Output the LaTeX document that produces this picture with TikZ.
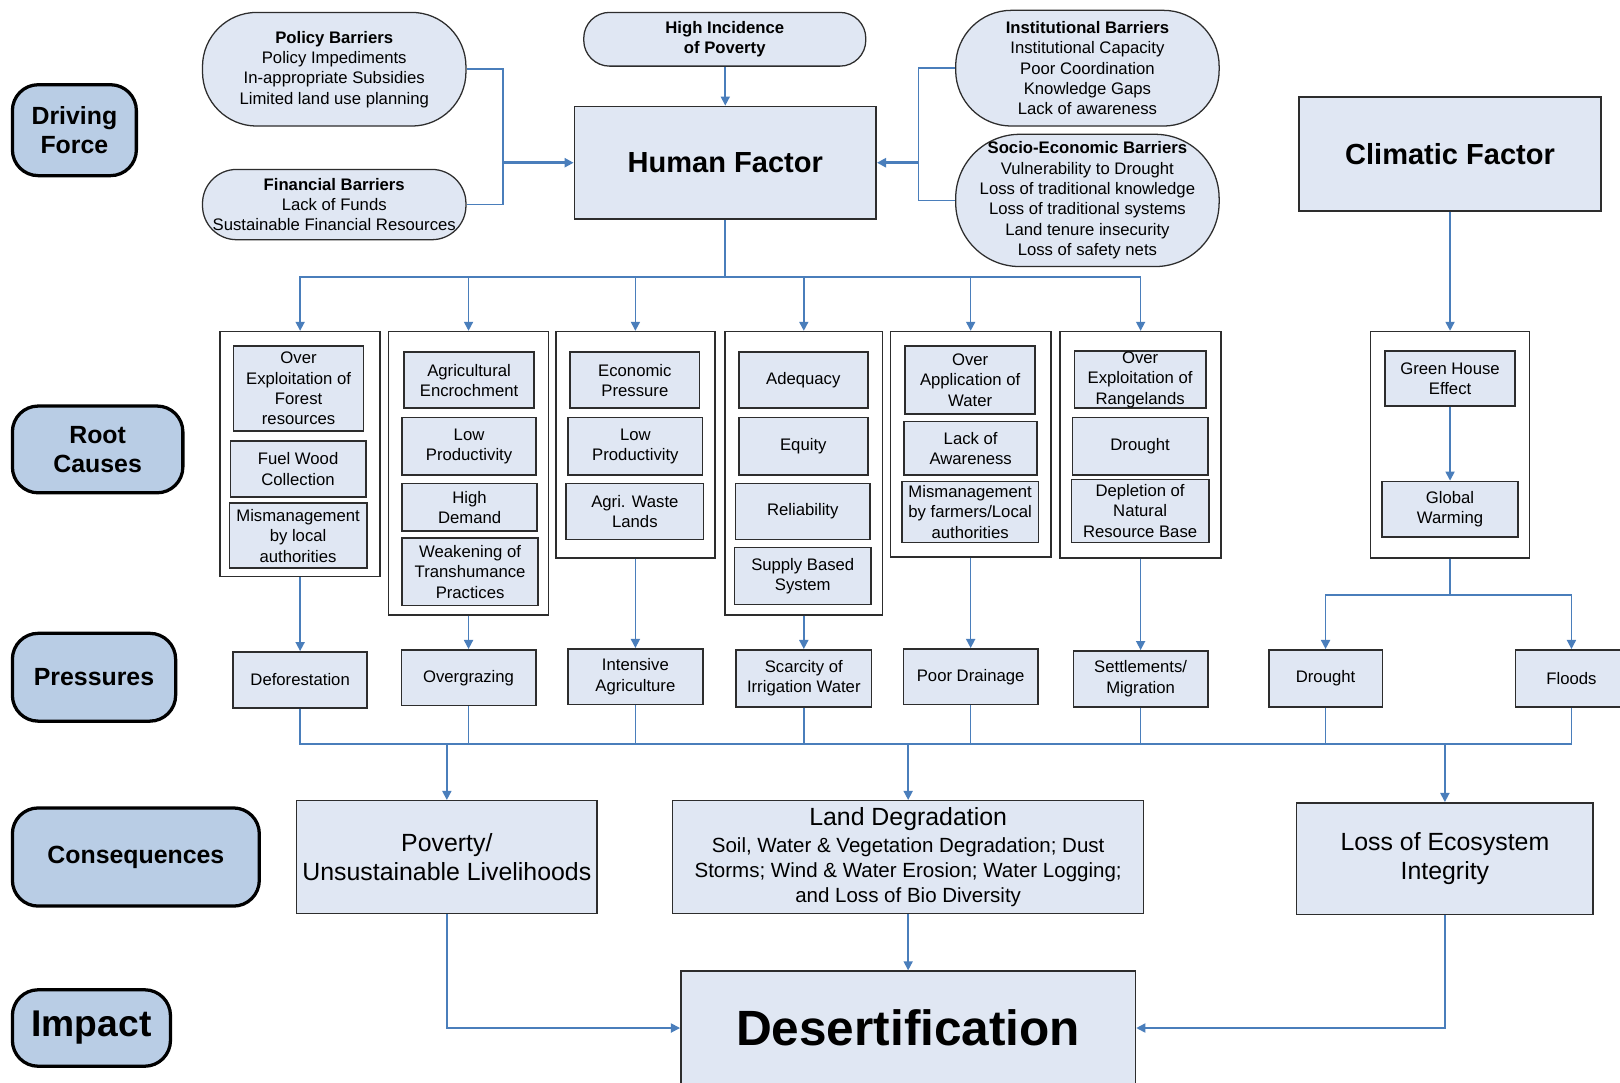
\documentclass[tikz,border=0pt]{standalone}
\usepackage{fontspec}
\setmainfont{Liberation Sans}
\usetikzlibrary{arrows.meta}

\definecolor{linkblue}{RGB}{74,126,187}
\definecolor{boxfill}{RGB}{224,231,243}
\definecolor{layerfill}{RGB}{185,205,229}
\definecolor{edge}{RGB}{45,45,45}

\newcommand{\smallfont}{\fontsize{9.2}{11.2}\selectfont}
\newcommand{\midfont}{\fontsize{13.7}{16.2}\selectfont}

\tikzset{
  sz/.style 2 args={minimum width=#1*0.02cm,minimum height=#2*0.02cm},
  layer/.style={draw=black,line width=1.8pt,fill=layerfill,rounded corners=0.5cm,align=center,inner sep=0pt,font=\bfseries\midfont},
  barrier/.style={draw=edge,line width=0.7pt,fill=boxfill,rounded corners=#1,align=center,inner sep=0pt,font=\smallfont},
  factor/.style={draw=edge,line width=0.9pt,fill=boxfill,inner sep=0pt,font=\bfseries\fontsize{16}{19}\selectfont},
  group/.style={draw=edge,line width=0.9pt,fill=white,inner sep=0pt},
  cause/.style={draw=edge,line width=0.9pt,fill=boxfill,align=center,inner sep=0pt,font=\smallfont},
  conseq/.style={draw=edge,line width=0.8pt,fill=boxfill,align=center,inner sep=0pt,font=\midfont},
  link/.style={draw=linkblue,line width=0.9pt},
  arrow/.style={link,-{Triangle[length=5pt,width=5pt]}},
  bigarrow/.style={link,line width=1.4pt,-{Triangle[length=5pt,width=5pt]}}
}

\begin{document}
\begin{tikzpicture}[x=0.02cm,y=-0.02cm]

\clip (0,0) rectangle (1568,1048);
\fill[white] (0,0) rectangle (1568,1048);

% levels
\node[layer,sz={120}{88}]  (drive)  at (72,126)    {Driving\\Force};
\node[layer,sz={165}{84}]  (root)   at (94.5,435)  {Root\\Causes};
\node[layer,sz={158}{85}]  (press)  at (91,655.5)  {Pressures};
\node[layer,sz={239}{95}]  (conseq) at (131.5,829.5) {Consequences};
\node[layer,sz={153}{74},font=\bfseries\fontsize{20.5}{24}\selectfont] (impact) at (88.5,995) {Impact};

% driving force
\node[barrier=1.05cm,sz={255}{110}] (policy)  at (323.5,67)  {\textbf{Policy Barriers}\\Policy Impediments\\In-appropriate Subsidies\\Limited land use planning};
\node[barrier=0.66cm,sz={255}{68}]  (finance) at (323.5,198) {\textbf{Financial Barriers}\\Lack of Funds\\Sustainable Financial Resources};
\node[barrier=0.5cm,sz={273}{52},font=\bfseries\smallfont] (highpov) at (701.5,38) {High Incidence\\of Poverty};
\node[barrier=1.08cm,sz={255}{112}] (inst)  at (1052.5,66)  {\textbf{Institutional Barriers}\\Institutional Capacity\\Poor Coordination\\Knowledge Gaps\\Lack of awareness};
\node[barrier=1.24cm,sz={255}{128}] (socio) at (1052.5,194) {\textbf{Socio-Economic Barriers}\\Vulnerability to Drought\\Loss of traditional knowledge\\Loss of traditional systems\\Land tenure insecurity\\Loss of safety nets};

\node[factor,sz={292}{109}] (human)   at (702,157.5)  {Human Factor};
\node[factor,sz={292}{110}] (climate) at (1403.5,149) {Climatic Factor};

% root causes
\node[group,sz={155}{237}] (g1) at (290.5,439.5) {};
\node[group,sz={155}{274}] (g2) at (453.5,458)   {};
\node[group,sz={154}{219}] (g3) at (615,430.5)   {};
\node[group,sz={152}{274}] (g4) at (778,458)     {};
\node[group,sz={155}{218}] (g5) at (939.5,430)   {};
\node[group,sz={156}{219}] (g6) at (1104,430.5)  {};
\node[group,sz={154}{219}] (g7) at (1403.5,430.5) {};

\node[cause,sz={126}{82}] (c11) at (289,376)   {Over\\Exploitation of\\Forest\\resources};
\node[cause,sz={131}{54}] (c12) at (288.5,454) {Fuel Wood\\Collection};
\node[cause,sz={133}{63}] (c13) at (288.5,518.5) {Mismanagement\\by local\\authorities};

\node[cause,sz={126}{54}] (c21) at (454,368)   {Agricultural\\Encrochment};
\node[cause,sz={130}{56}] (c22) at (454,432)   {Low\\Productivity};
\node[cause,sz={131}{46}] (c23) at (454.5,491) {High\\Demand};
\node[cause,sz={132}{65}] (c24) at (455,553.5) {Weakening of\\Transhumance\\Practices};

\node[cause,sz={125}{54}] (c31) at (614.5,368) {Economic\\Pressure};
\node[cause,sz={130}{56}] (c32) at (615,432)   {Low\\Productivity};
\node[cause,sz={133}{54}] (c33) at (614.5,495) {Agri. Waste\\Lands};

\node[cause,sz={125}{54}] (c41) at (777.5,368) {Adequacy};
\node[cause,sz={125}{56}] (c42) at (777.5,432) {Equity};
\node[cause,sz={130}{54}] (c43) at (777,495)   {Reliability};
\node[cause,sz={132}{55}] (c44) at (777,557.5) {Supply Based\\System};

\node[cause,sz={126}{66}] (c51) at (939,368)   {Over\\Application of\\Water};
\node[cause,sz={129}{52}] (c52) at (939.5,434) {Lack of\\Awareness};
\node[cause,sz={132}{59}] (c53) at (939,495.5) {Mismanagement\\by farmers/Local\\authorities};

\node[cause,sz={127}{55}] (c61) at (1103.5,367.5) {Over\\Exploitation of\\Rangelands};
\node[cause,sz={131}{56}] (c62) at (1103.5,432)   {Drought};
\node[cause,sz={133}{61}] (c63) at (1103.5,494.5) {Depletion of\\Natural\\Resource Base};

\node[cause,sz={126}{53}] (c71) at (1403.5,366.5) {Green House\\Effect};
\node[cause,sz={132}{54}] (c72) at (1403.5,493)   {Global\\Warming};

% pressures
\node[cause,sz={130}{54}] (p1) at (290.5,658)  {Deforestation};
\node[cause,sz={130}{54}] (p2) at (453.5,656)  {Overgrazing};
\node[cause,sz={131}{54}] (p3) at (615,655)    {Intensive\\Agriculture};
\node[cause,sz={131}{55}] (p4) at (778,656.5)  {Scarcity of\\Irrigation Water};
\node[cause,sz={130}{54}] (p5) at (939.5,655)  {Poor Drainage};
\node[cause,sz={130}{54}] (p6) at (1104,657)   {Settlements/\\Migration};
\node[cause,sz={110}{55}] (p7) at (1283,656.5) {Drought};
\node[cause,sz={108}{55}] (p8) at (1521,656.5) {Floods};

% consequences
\node[conseq,sz={291}{109}] (pov)  at (432.5,829.5) {Poverty/\\Unsustainable Livelihoods};
\node[conseq,sz={456}{109},font=\fontsize{11.3}{13.6}\selectfont] (land) at (879,829.5)
  {{\midfont Land Degradation}\\[1.5pt]Soil, Water \& Vegetation Degradation; Dust\\Storms; Wind \& Water Erosion; Water Logging;\\and Loss of Bio Diversity};
\node[conseq,sz={287}{108}] (eco)  at (1398.5,831)  {Loss of Ecosystem\\Integrity};

% impact
\node[factor,sz={440}{110},font=\bfseries\fontsize{27.3}{32}\selectfont] (desert) at (879,995) {Desertification};

% connectors
\coordinate (lbus) at (487,157.5);
\coordinate (rbus) at (889,157.5);
\draw[link] (policy.east) -| (lbus);
\draw[link] (finance.east) -| (lbus);
\draw[bigarrow] (lbus) -- (human.west);
\draw[link] (inst.west) -| (rbus);
\draw[link] (socio.west) -| (rbus);
\draw[bigarrow] (rbus) -- (human.east);
\draw[arrow] (highpov.south -| human.north) -- (human.north);

\coordinate (hbus) at (702,268);
\draw[link,line width=1.2pt] (human.south) -- (hbus);
\foreach \g in {g1,g2,g3,g4,g5,g6}
  \draw[arrow] (hbus) -| (\g.north);
\foreach \g/\p in {g1/p1,g2/p2,g3/p3,g4/p4,g5/p5,g6/p6}
  \draw[arrow] (\g.south) -- (\p.north);

\draw[arrow] (climate.south) -- (g7.north);
\draw[arrow] (c71.south) -- (c72.north);
\coordinate (cbus) at (1403.5,576);
\draw[link] (g7.south) -- (cbus);
\draw[arrow] (cbus) -| (p7.north);
\draw[arrow] (cbus) -| (p8.north);

\coordinate (pbus) at (880,720);
\draw[link] (p1.south) |- (p8.south |- pbus) -- (p8.south);
\foreach \p in {p2,p3,p4,p5,p6,p7}
  \draw[link] (\p.south) -- (\p.south |- pbus);
\foreach \c in {pov,land,eco}
  \draw[arrow] (\c.north |- pbus) -- (\c.north);

\draw[arrow] (pov.south) |- (desert.west);
\draw[arrow] (land.south) -- (desert.north);
\draw[arrow] (eco.south) |- (desert.east);

\end{tikzpicture}
\end{document}
